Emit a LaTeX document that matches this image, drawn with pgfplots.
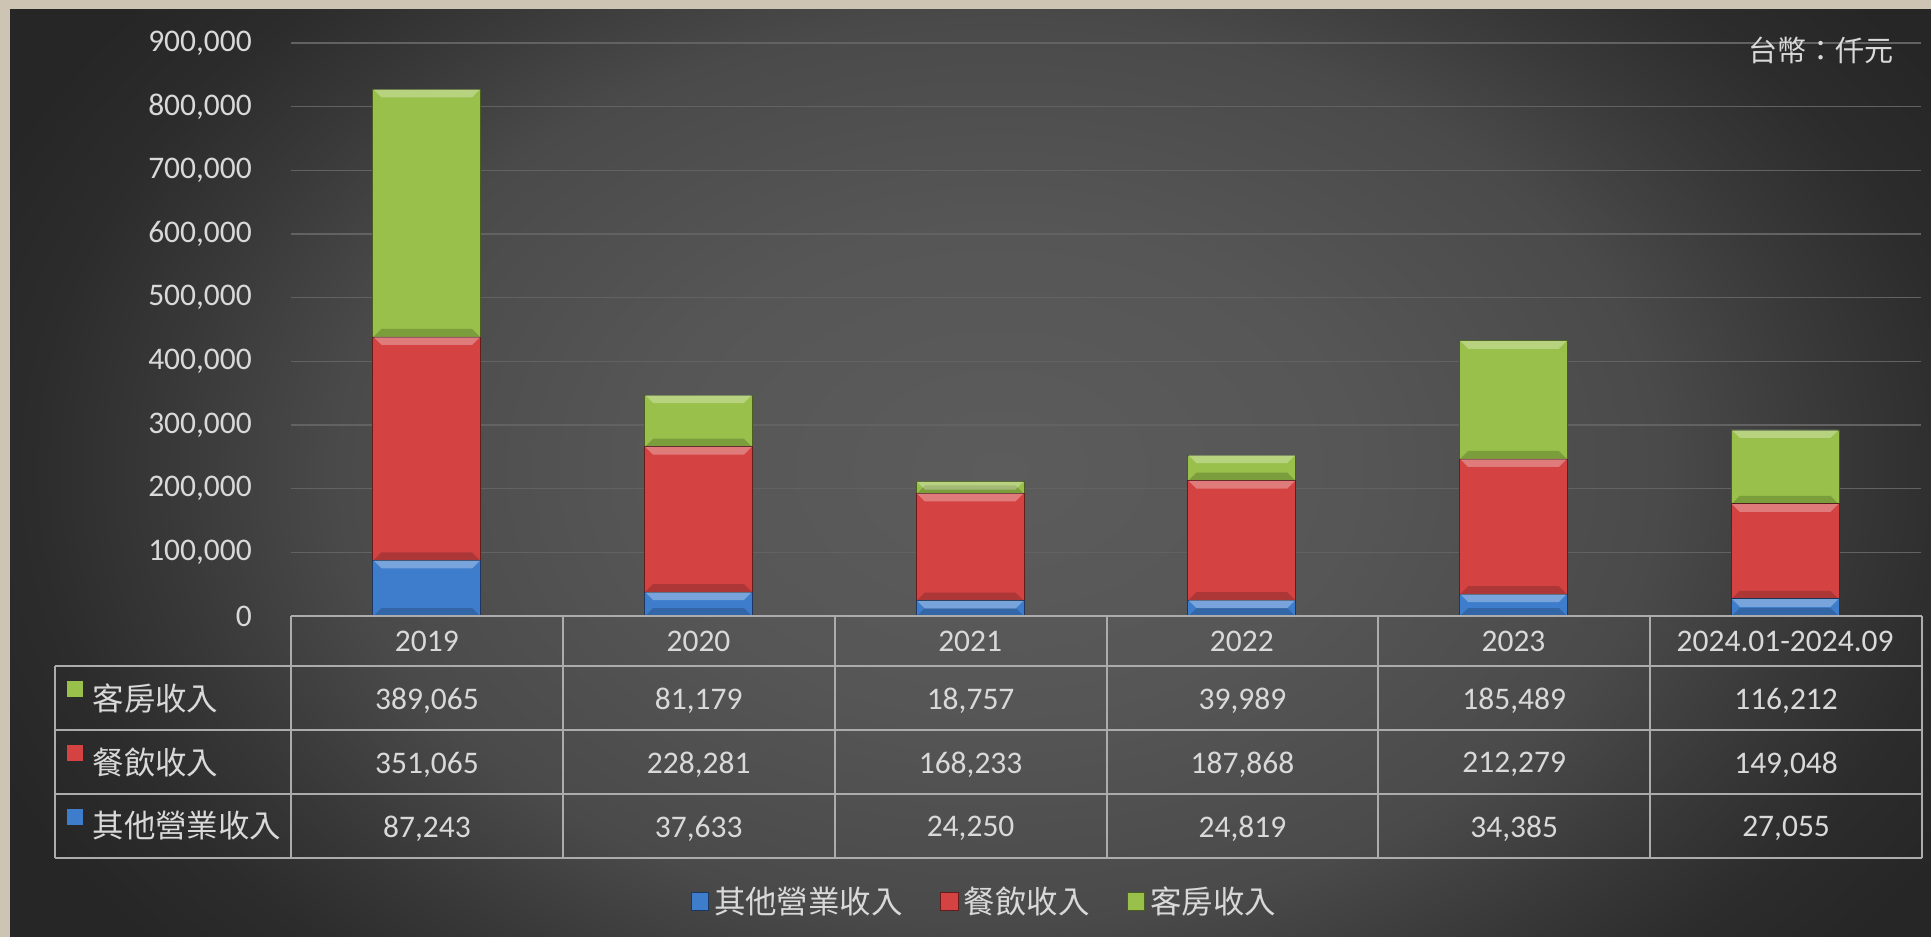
\documentclass[border=0pt]{standalone}
\usepackage{pgfplots}
\pgfplotsset{compat=1.18}
\usepackage{pgfplotstable}
\usepackage{fontspec}
\setmainfont{Carlito}
\newfontfamily\cjk{Noto Sans CJK TC}
\newcommand\fs{\fontsize{11.8}{14}\selectfont}
\definecolor{beige}{RGB}{206,196,179}
\definecolor{bgc0}{RGB}{92,92,92}
\definecolor{bgc1}{RGB}{86,86,86}
\definecolor{bgc2}{RGB}{74,74,74}
\definecolor{bgc3}{RGB}{56,56,56}
\definecolor{bgc4}{RGB}{44,44,44}
\definecolor{bgc5}{RGB}{38,38,38}
\definecolor{txt}{RGB}{217,217,217}
\definecolor{gridc}{RGB}{98,98,98}
\definecolor{tline}{RGB}{172,172,172}
\definecolor{cblue}{RGB}{62,125,204}
\definecolor{blueedge}{RGB}{28,56,96}
\definecolor{cred}{RGB}{212,66,66}
\definecolor{rededge}{RGB}{100,28,28}
\definecolor{cgreen}{RGB}{152,192,74}
\definecolor{greenedge}{RGB}{74,94,34}
\pgfdeclareradialshading{bgshade}{\pgfpoint{0bp}{0bp}}{color(0bp)=(bgc0); color(8bp)=(bgc1); color(15bp)=(bgc2); color(19bp)=(bgc3); color(22bp)=(bgc4); color(25bp)=(bgc5); color(50bp)=(bgc5)}
% bevel marks: light strip under a segment top, dark strip over a segment bottom
\pgfdeclareplotmark{bevtop}{%
  \pgfsetfillcolor{white}\pgfsetfillopacity{0.30}%
  \pgfpathmoveto{\pgfpoint{-20pt}{0pt}}\pgfpathlineto{\pgfpoint{20pt}{0pt}}%
  \pgfpathlineto{\pgfpoint{17pt}{-3pt}}\pgfpathlineto{\pgfpoint{-17pt}{-3pt}}\pgfpathclose
  \pgfusepathqfill}
\pgfdeclareplotmark{bevbot}{%
  \pgfsetfillcolor{black}\pgfsetfillopacity{0.18}%
  \pgfpathmoveto{\pgfpoint{-20pt}{0pt}}\pgfpathlineto{\pgfpoint{20pt}{0pt}}%
  \pgfpathlineto{\pgfpoint{17pt}{3pt}}\pgfpathlineto{\pgfpoint{-17pt}{3pt}}\pgfpathclose
  \pgfusepathqfill}

\pgfplotstableread{
idx other food room
0 87243 351065 389065
1 37633 228281 81179
2 24250 168233 18757
3 24819 187868 39989
4 34385 212279 185489
5 27055 149048 116212
}\datatable

\begin{document}
\begin{tikzpicture}
\begin{scope}[x=0.375pt,y=-0.375pt]
\useasboundingbox (0,0) rectangle (1931,937);
\fill[beige] (0,0) rectangle (1931,937);
\begin{scope}
\clip (10,10) rectangle (1931,937);
\shade[shading=bgshade] (-100,-280) rectangle (2100,1220);
\end{scope}
\end{scope}

\begin{axis}[
  at={(109.125pt,-231pt)}, anchor=south west,
  width=611.25pt, height=214.875pt, scale only axis,
  xmin=-0.5, xmax=5.5, ymin=0, ymax=900000,
  ybar stacked, bar width=40.5pt,
  xtick={0,1,2,3,4,5},
  xticklabels={2019,2020,2021,2022,2023,2024.01-2024.09},
  xticklabel style={anchor=center, yshift=-9.4pt, text=txt, font=\fs},
  ytick={0,100000,200000,300000,400000,500000,600000,700000,800000,900000},
  scaled y ticks=false,
  yticklabel style={text=txt, font=\fs, inner sep=0pt, xshift=-14.5pt},
  y tick label style={/pgf/number format/.cd, fixed, precision=0, 1000 sep={,}, assume math mode=true},
  major tick length=0pt,
  axis line style={draw=none},
  ymajorgrids, grid style={gridc, line width=0.6pt},
  clip=false,
  legend style={at={(0.4264,-0.499)}, anchor=center, draw=none, fill=none,
    legend columns=-1, text=txt, font=\cjk\fs,
    /tikz/every even column/.append style={column sep=12pt}},
  legend image code/.code={\fill[#1] (0pt,-3pt) rectangle (6.5pt,3.5pt);},
]
\addplot[fill=cblue, draw=blueedge, line width=0.3pt] table[x=idx,y=other]{\datatable};
\addplot[fill=cred, draw=rededge, line width=0.3pt] table[x=idx,y=food]{\datatable};
\addplot[fill=cgreen, draw=greenedge, line width=0.3pt] table[x=idx,y=room]{\datatable};
\legend{其他營業收入,餐飲收入,客房收入}
\end{axis}

\begin{axis}[
  at={(109.125pt,-231pt)}, anchor=south west,
  width=611.25pt, height=214.875pt, scale only axis,
  xmin=-0.5, xmax=5.5, ymin=0, ymax=900000,
  hide axis, clip=false,
]
\addplot[only marks, mark=bevbot] table[x=idx, y expr=0]{\datatable};
\addplot[only marks, mark=bevtop] table[x=idx, y=other]{\datatable};
\addplot[only marks, mark=bevbot] table[x=idx, y=other]{\datatable};
\addplot[only marks, mark=bevtop] table[x=idx, y expr=\thisrow{other}+\thisrow{food}]{\datatable};
\addplot[only marks, mark=bevbot] table[x=idx, y expr=\thisrow{other}+\thisrow{food}]{\datatable};
\addplot[only marks, mark=bevtop] table[x=idx, y expr=\thisrow{other}+\thisrow{food}+\thisrow{room}]{\datatable};
\end{axis}

\begin{scope}[x=0.375pt,y=-0.375pt]
\begin{scope}[line width=0.75pt, draw=tline]
\draw (291,616) -- (1922,616);
\draw (55,666) -- (1922,666);
\draw (55,730) -- (1922,730);
\draw (55,794) -- (1922,794);
\draw (55,858) -- (1922,858);
\draw (55,666) -- (55,858);
\foreach \k in {0,...,6} {\draw ({291+271.83*\k},616) -- ({291+271.83*\k},858);}
\end{scope}
\fill[cgreen] (67,681) rectangle (83,697);
\fill[cred] (67,745) rectangle (83,761);
\fill[cblue] (67,809) rectangle (83,825);
\node[anchor=west, font=\cjk\fs, text=txt, inner sep=0pt] at (92,698) {客房收入};
\node[anchor=west, font=\cjk\fs, text=txt, inner sep=0pt] at (92,762) {餐飲收入};
\node[anchor=west, font=\cjk\fs, text=txt, inner sep=0pt] at (92,826) {其他營業收入};
\foreach \i in {0,...,5}{
  \foreach \col/\yy in {room/700.5,food/764.5,other/828.5}{
    \pgfplotstablegetelem{\i}{\col}\of\datatable
    \node[font=\fs, text=txt] at ({291+271.83*(\i+0.5)},\yy) {\pgfmathprintnumber[fixed,precision=0,1000 sep={,},assume math mode=true]{\pgfplotsretval}};
  }
}
\node[anchor=east, font=\cjk\fontsize{10.9}{13}\selectfont, text=txt, inner sep=0pt] at (1894,50) {台幣：仟元};
\end{scope}
\end{tikzpicture}
\end{document}
